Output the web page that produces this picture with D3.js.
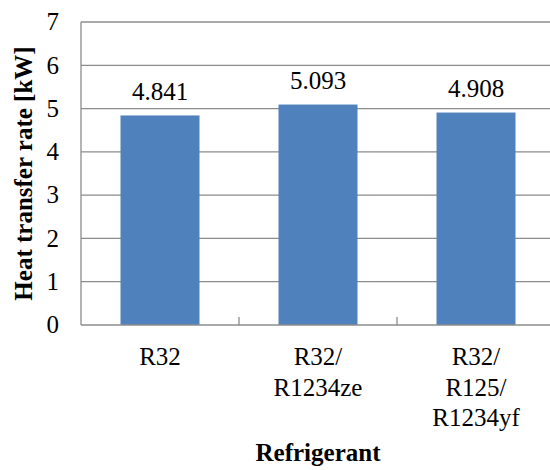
<!DOCTYPE html>
<html>
<head>
<meta charset="utf-8">
<script src="https://cdn.jsdelivr.net/npm/d3@7"></script>
</head>
<body style="margin:0; background:#fff">
<div id="chart"></div>
<script>
// data
var categories = ["R32", "R32/\nR1234ze", "R32/\nR125/\nR1234yf"];
var values = [4.841, 5.093, 4.908];
var yTicks = [0, 1, 2, 3, 4, 5, 6, 7];

var width = 550, height = 470;
var margin = {top: 22, right: -5, bottom: 145, left: 81};
var font = "'Liberation Serif'";

var svg = d3.select("#chart").append("svg")
    .attr("width", width)
    .attr("height", height)
    .style("display", "block");

var x = d3.scaleBand()
    .domain(categories)
    .range([margin.left, width - margin.right])
    .paddingInner(0.5)
    .paddingOuter(0.25);

var y = d3.scaleLinear()
    .domain([0, 7])
    .range([height - margin.bottom, margin.top]);

// gridlines
svg.selectAll("line.grid")
    .data(yTicks.slice(1))
    .enter()
    .append("line")
    .attr("class", "grid")
    .attr("x1", margin.left)
    .attr("x2", width - margin.right)
    .attr("y1", function(d) { return y(d); })
    .attr("y2", function(d) { return y(d); })
    .style("stroke", "#8c8c8c")
    .style("stroke-width", 1.3);

// bars
svg.selectAll("rect.bar")
    .data(values)
    .enter()
    .append("rect")
    .attr("class", "bar")
    .attr("x", function(d, i) { return x(categories[i]); })
    .attr("width", x.bandwidth())
    .attr("y", function(d) { return y(d); })
    .attr("height", function(d) { return y(0) - y(d); })
    .style("fill", "#4f81bd");

// value labels
svg.selectAll("text.val")
    .data(values)
    .enter()
    .append("text")
    .attr("class", "val")
    .attr("x", function(d, i) { return x(categories[i]) + x.bandwidth() / 2; })
    .attr("y", function(d) { return y(d) - 15.5; })
    .attr("text-anchor", "middle")
    .style("font-family", font)
    .style("font-size", "25px")
    .text(function(d) { return d3.format(".3f")(d); });

// axes lines
svg.append("line")
    .attr("x1", margin.left).attr("x2", margin.left)
    .attr("y1", y(7)).attr("y2", y(0))
    .style("stroke", "#8c8c8c").style("stroke-width", 1.3);
svg.append("line")
    .attr("x1", margin.left).attr("x2", width - margin.right)
    .attr("y1", y(0)).attr("y2", y(0))
    .style("stroke", "#8c8c8c").style("stroke-width", 1.3);

// category boundary ticks
var step = x.step();
svg.selectAll("line.xtick")
    .data([1, 2])
    .enter()
    .append("line")
    .attr("x1", function(d) { return margin.left + d * step; })
    .attr("x2", function(d) { return margin.left + d * step; })
    .attr("y1", y(0) - 8)
    .attr("y2", y(0))
    .style("stroke", "#8c8c8c").style("stroke-width", 1.3);

// y tick labels
svg.selectAll("text.ytick")
    .data(yTicks)
    .enter()
    .append("text")
    .attr("class", "ytick")
    .attr("x", 59)
    .attr("y", function(d) { return y(d); })
    .attr("dy", "0.33em")
    .attr("text-anchor", "end")
    .style("font-family", font)
    .style("font-size", "25px")
    .text(function(d) { return d; });

// category labels
var cat = svg.selectAll("text.cat")
    .data(categories)
    .enter()
    .append("text")
    .attr("class", "cat")
    .attr("text-anchor", "middle")
    .style("font-family", font)
    .style("font-size", "25px");
cat.each(function(d) {
    var t = d3.select(this);
    var cx = x(d) + x.bandwidth() / 2;
    d.split("\n").forEach(function(line, i) {
        t.append("tspan")
            .attr("x", cx)
            .attr("y", 365 + i * 30.5)
            .text(line);
    });
});

// axis titles
svg.append("text")
    .attr("x", (margin.left + width - margin.right) / 2)
    .attr("y", 461)
    .attr("text-anchor", "middle")
    .style("font-family", font)
    .style("font-size", "25px")
    .style("font-weight", "bold")
    .text("Refrigerant");

svg.append("text")
    .attr("transform", "translate(32," + ((y(0) + y(7)) / 2) + ") rotate(-90)")
    .attr("text-anchor", "middle")
    .style("font-family", font)
    .style("font-size", "25px")
    .style("font-weight", "bold")
    .text("Heat transfer rate [kW]");
</script>
</body>
</html>
